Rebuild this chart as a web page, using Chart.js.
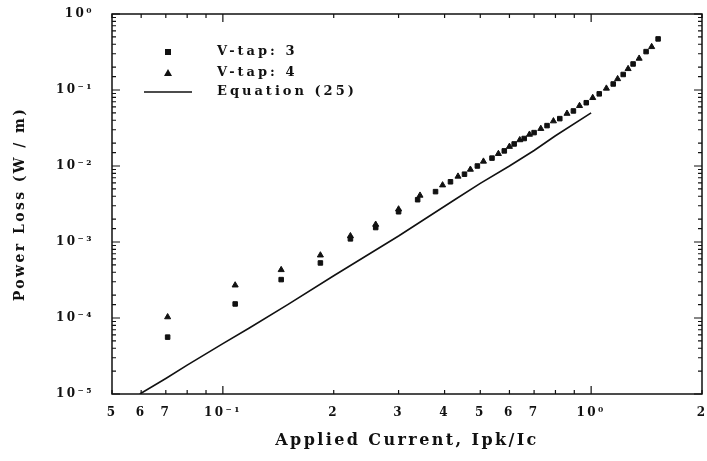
<!DOCTYPE html>
<html><head><meta charset="utf-8">
<script src="https://cdn.jsdelivr.net/npm/chart.js@4"></script>
<style>html,body{margin:0;padding:0;background:#fff}#wrap{width:707px;height:461px;position:relative}</style>
</head><body><div id="wrap"><canvas id="c"></canvas></div>
<script>
// ---- data ----
const tap3X = [0.0708, 0.108, 0.144, 0.184, 0.222, 0.26, 0.30, 0.338, 0.378, 0.415, 0.453, 0.491, 0.538, 0.581, 0.618, 0.658, 0.70, 0.759, 0.822, 0.895, 0.97, 1.052, 1.148, 1.222, 1.30, 1.41, 1.52];
const tap3Y = [5.6e-5, 1.53e-4, 3.2e-4, 5.3e-4, 1.1e-3, 1.55e-3, 2.5e-3, 3.6e-3, 4.6e-3, 6.2e-3, 7.8e-3, 1.0e-2, 1.27e-2, 1.58e-2, 1.95e-2, 2.3e-2, 2.75e-2, 3.4e-2, 4.2e-2, 5.3e-2, 6.8e-2, 8.9e-2, 0.12, 0.16, 0.22, 0.32, 0.47];
const tap4X = [0.0708, 0.108, 0.144, 0.184, 0.222, 0.26, 0.30, 0.343, 0.395, 0.435, 0.47, 0.51, 0.56, 0.60, 0.64, 0.68, 0.73, 0.79, 0.86, 0.93, 1.01, 1.10, 1.18, 1.26, 1.35, 1.46];
const tap4Y = [1.03e-4, 2.7e-4, 4.3e-4, 6.7e-4, 1.2e-3, 1.7e-3, 2.7e-3, 4.1e-3, 5.6e-3, 7.3e-3, 9.0e-3, 1.15e-2, 1.45e-2, 1.8e-2, 2.2e-2, 2.6e-2, 3.1e-2, 3.9e-2, 4.9e-2, 6.2e-2, 7.9e-2, 0.105, 0.14, 0.19, 0.26, 0.37];
const eqX = [0.0595, 0.07, 0.08, 0.1, 0.118, 0.15, 0.2, 0.3, 0.426, 0.5, 0.6, 0.7, 0.8, 1.0];
const eqY = [1.0e-5, 1.6e-5, 2.4e-5, 4.6e-5, 7.4e-5, 1.5e-4, 3.6e-4, 1.2e-3, 3.6e-3, 5.9e-3, 1.0e-2, 1.6e-2, 2.5e-2, 5.0e-2];
const seriesNames = ['V-tap: 3', 'V-tap: 4', 'Equation (25)'];

const xTickValues = [0.05,0.06,0.07,0.08,0.09,0.1,0.2,0.3,0.4,0.5,0.6,0.7,0.8,0.9,1,2];
const xTickLabels = ['5','6','7','','','10\u207B\u00B9','2','3','4','5','6','7','','','10\u2070','2'];
const yMajorValues = [1e-5,1e-4,1e-3,1e-2,1e-1,1];
const yMajorLabels = ['10\u207B\u2075','10\u207B\u2074','10\u207B\u00B3','10\u207B\u00B2','10\u207B\u00B9','10\u2070'];
const xTitle = 'Applied Current, Ipk/Ic';
const yTitle = 'Power Loss (W / m)';

const FONT = 'DejaVu Serif';
const pts = (xs, ys) => xs.map((x, i) => ({x: x, y: ys[i]}));
const isDecade = v => Math.abs(Math.log10(v) - Math.round(Math.log10(v))) < 1e-6;

const spacing = {
  id: 'spacing',
  beforeDraw(chart) { chart.ctx.letterSpacing = '2.4px'; },
  afterDraw(chart) { chart.ctx.letterSpacing = '0px'; }
};

const frameTicks = {
  id: 'frameTicks',
  afterDatasetsDraw(chart) {
    const {ctx, chartArea: a, scales: {x, y}} = chart;
    ctx.save();
    ctx.strokeStyle = '#111';
    ctx.lineWidth = 1.5;
    ctx.strokeRect(a.left, a.top, a.right - a.left, a.bottom - a.top);
    ctx.lineWidth = 1.2;
    ctx.beginPath();
    x.ticks.forEach(t => {
      const px = x.getPixelForValue(t.value);
      const L = isDecade(t.value) ? 8 : 4;
      ctx.moveTo(px, a.bottom); ctx.lineTo(px, a.bottom - L);
      ctx.moveTo(px, a.top); ctx.lineTo(px, a.top + L);
    });
    y.ticks.forEach(t => {
      const py = y.getPixelForValue(t.value);
      const L = isDecade(t.value) ? 8 : 4;
      ctx.moveTo(a.left, py); ctx.lineTo(a.left + L, py);
      ctx.moveTo(a.right, py); ctx.lineTo(a.right - L, py);
    });
    ctx.stroke();
    // legend inside the plot
    const ds = chart.data.datasets;
    const mx = a.left + 56, tx = a.left + 105;
    const rows = [a.top + 38, a.top + 59, a.top + 78];
    ctx.font = 'bold 13px ' + FONT;
    ctx.letterSpacing = '3px';
    ctx.fillStyle = '#111';
    ctx.textBaseline = 'middle';
    ds.forEach((d, i) => {
      const yy = rows[i];
      ctx.fillStyle = '#111';
      if (d.pointStyle === 'rect') {
        ctx.fillRect(mx - 3, yy - 3, 6, 6);
      } else if (d.pointStyle === 'triangle') {
        ctx.beginPath(); ctx.moveTo(mx, yy - 4); ctx.lineTo(mx + 4, yy + 3); ctx.lineTo(mx - 4, yy + 3); ctx.closePath(); ctx.fill();
      } else {
        ctx.beginPath(); ctx.lineWidth = 1.5; ctx.moveTo(mx - 24, yy); ctx.lineTo(mx + 24, yy); ctx.stroke();
      }
      ctx.fillText(d.label, tx, yy);
    });
    ctx.restore();
  }
};

new Chart(document.getElementById('c'), {
  type: 'scatter',
  data: {
    datasets: [
      {label: seriesNames[0], data: pts(tap3X, tap3Y), pointStyle: 'rect', pointRadius: 3.2, backgroundColor: '#111', borderColor: '#111', borderWidth: 1},
      {label: seriesNames[1], data: pts(tap4X, tap4Y), pointStyle: 'triangle', pointRadius: 3.5, backgroundColor: '#111', borderColor: '#111', borderWidth: 1},
      {label: seriesNames[2], type: 'line', data: pts(eqX, eqY), showLine: true, pointRadius: 0, borderColor: '#111', borderWidth: 1.6, fill: false, tension: 0}
    ]
  },
  options: {
    responsive: true, maintainAspectRatio: false, animation: false,
    layout: {padding: {top: 14, right: 1, left: 0, bottom: 0}},
    plugins: {legend: {display: false}, tooltip: {enabled: false}},
    scales: {
      x: {
        type: 'logarithmic', min: 0.05, max: 2,
        afterBuildTicks: s => { s.ticks = xTickValues.map(v => ({value: v})); },
        afterFit: s => { s.height = 67; s.paddingLeft = 0; s.paddingRight = 0; },
        grid: {display: false},
        border: {display: false},
        ticks: {autoSkip: false, maxRotation: 0, padding: 4, color: '#111', font: {family: FONT, size: 12, weight: 'bold'},
          callback: (v, i) => xTickLabels[xTickValues.findIndex(t => Math.abs(t - v) < 1e-9)] ?? ''},
        title: {display: true, text: xTitle, color: '#111', font: {family: FONT, size: 16, weight: 'bold'}, padding: {top: 4, bottom: 11}}
      },
      y: {
        type: 'logarithmic', min: 1e-5, max: 1,
        afterFit: s => { s.width = 112; s.paddingTop = 0; s.paddingBottom = 0; },
        grid: {display: false},
        border: {display: false},
        ticks: {autoSkip: false, padding: 10, color: '#111', font: {family: FONT, size: 12, weight: 'bold'},
          callback: v => { const i = yMajorValues.findIndex(t => Math.abs(Math.log10(t) - Math.log10(v)) < 1e-6); return i >= 0 ? yMajorLabels[i] : ''; }},
        title: {display: true, text: yTitle, color: '#111', font: {family: FONT, size: 14, weight: 'bold'}, padding: {top: 12, bottom: 4}}
      }
    }
  },
  plugins: [spacing, frameTicks]
});
</script>
</body></html>
